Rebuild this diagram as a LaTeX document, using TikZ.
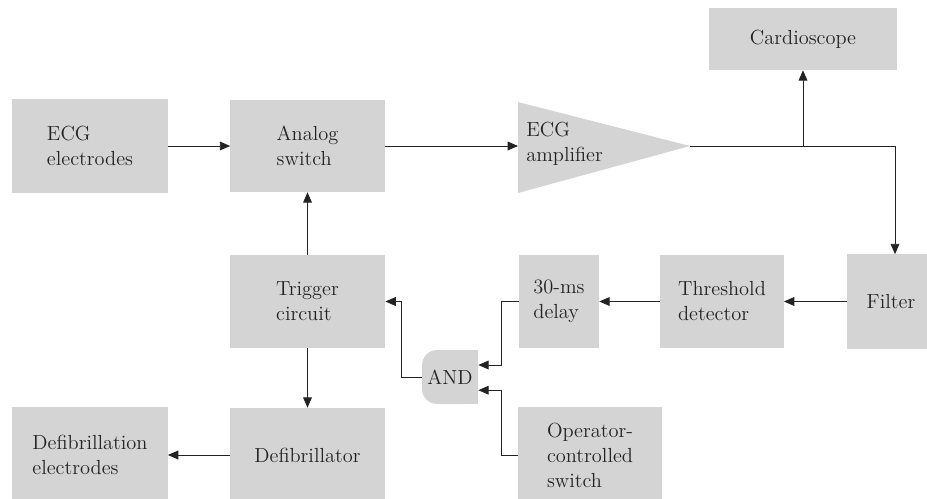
\documentclass[tikz,border=0pt]{standalone}
\usepackage{fontspec}
\usetikzlibrary{arrows.meta,positioning,calc}
\definecolor{boxgray}{RGB}{212,212,212}
\definecolor{inkgray}{RGB}{35,35,35}

\begin{document}
\begin{tikzpicture}[x=0.025cm,y=-0.025cm,
      every node/.style={font=\fontsize{14.5}{17.8}\selectfont\addfontfeatures{LetterSpace=4,FakeBold=0.3},text=inkgray},
      box/.style={fill=boxgray,inner sep=0pt,align=left},
      arr/.style={draw=inkgray,line width=0.65pt,-{Triangle[length=0.26cm,width=0.22cm]}}]
    \useasboundingbox (0,0) rectangle (927,499);
    \node[box,minimum width=3.9cm,minimum height=2.33cm] (ecg) at (90,146) {ECG\\electrodes};
    \node[box,minimum width=3.85cm,minimum height=2.3cm] (sw) at (307.5,146) {Analog\\switch};
    % amplifier triangle
    \fill[boxgray] (518,102) -- (690,146) -- (518,193) -- cycle;
    \coordinate (ampin) at (518,146);
    \coordinate (ampout) at (690,146);
    \node[align=left,anchor=west,inner sep=0pt] (amp) at (526,144) {ECG\\amplifier};
    \node[box,align=center,minimum width=4.68cm,minimum height=1.55cm] (scope) at (803,39) {Cardioscope};
    \node[box,minimum width=2.2cm,minimum height=2.35cm] (filt) at (891,301.5) {Filter};
    \node[box,minimum width=3.08cm,minimum height=2.33cm] (thr) at (722,301.5) {Threshold\\detector};
    \node[box,minimum width=2cm,minimum height=2.3cm] (dly) at (559,301.5) {30-ms\\delay};
    \node[box,minimum width=3.88cm,minimum height=2.3cm] (trig) at (307.5,301.5) {Trigger\\circuit};
    % AND gate, round on the left side only
    \fill[boxgray,rounded corners=0.38cm] (422,350) rectangle (478,404);
    \fill[boxgray] (450,350) rectangle (478,404);
    \node[inner sep=0pt,minimum width=1.4cm,minimum height=1.35cm] (and) at (450,377) {AND};
    \node[box,minimum width=3.88cm,minimum height=2.35cm] (defib) at (307.5,455) {Defibrillator};
    \node[box,minimum width=3.88cm,minimum height=2.38cm] (defel) at (90,455) {Defibrillation\\electrodes};
    \node[box,minimum width=3.58cm,minimum height=2.4cm] (op) at (590,455) {Operator-\\controlled\\switch};
    \draw[arr] (ecg.east) -- (sw.west);
    \draw[arr] (sw.east) -- (ampin);
    \draw[arr] (ampout) -| ([xshift=0.1cm]filt.north);
    \draw[arr] (scope.south |- ampout) -- (scope.south);
    \draw[arr] (filt.west) -- (thr.east);
    \draw[arr] (thr.west) -- (dly.east);
    \draw[arr] (dly.west) -- ++(-17,0) |- ([yshift=0.3cm]and.east);
    \draw[arr] (op.west) -- ++(-17,0) |- ([yshift=-0.33cm]and.east);
    \draw[arr] (and.west) -- ++(-20,0) |- (trig.east);
    \draw[arr] (trig.north) -- (sw.south);
    \draw[arr] (trig.south) -- (defib.north);
    \draw[arr] (defib.west) -- (defel.east);
\end{tikzpicture}
\end{document}
